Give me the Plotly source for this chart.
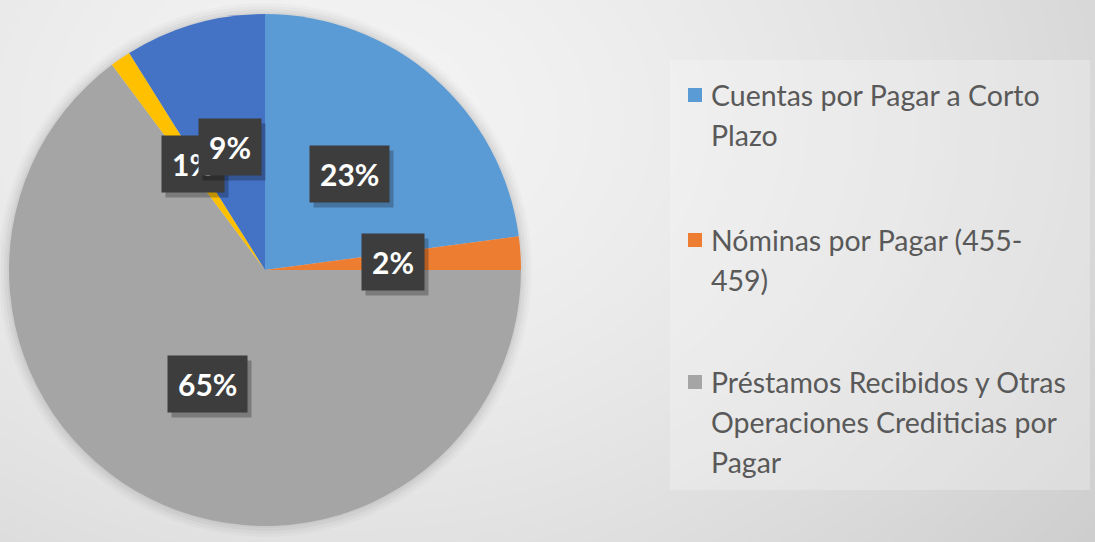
import base64, struct, zlib, math
import numpy as np
import plotly.graph_objects as go

# ---- data ----
labels = [
    "Cuentas por Pagar a Corto Plazo",
    "Nóminas por Pagar (455-459)",
    "Préstamos Recibidos y Otras Operaciones Crediticias por Pagar",
    "Otras Cuentas por Pagar",
    "Otros Pasivos",
]
values = [22.9, 2.1, 64.8, 1.3, 8.9]
colors = ["#5B9BD5", "#ED7D31", "#A5A5A5", "#FFC000", "#4472C4"]
legend_lines = [
    ["Cuentas por Pagar a Corto", "Plazo"],
    ["Nóminas por Pagar (455-", "459)"],
    ["Préstamos Recibidos y Otras", "Operaciones Crediticias por", "Pagar"],
]

W, H = 1095, 542

# ---- background gradient image (pure python PNG) ----
def gradient_png(w, h):
    yy, xx = np.mgrid[0:h, 0:w].astype(float)
    d = np.sqrt(((xx - 350) * 0.75) ** 2 + (yy - 120) ** 2)
    v = 244 - 38 * (d / 700.0) ** 1.5
    v = np.clip(v, 0, 255).astype(np.uint8)
    raw = b"".join(b"\x00" + v[r].tobytes() for r in range(h))
    def chunk(t, data):
        c = struct.pack(">I", len(data)) + t + data
        return c + struct.pack(">I", zlib.crc32(t + data) & 0xffffffff)
    png = b"\x89PNG\r\n\x1a\n"
    png += chunk(b"IHDR", struct.pack(">IIBBBBB", w, h, 8, 0, 0, 0, 0))
    png += chunk(b"IDAT", zlib.compress(raw, 9))
    png += chunk(b"IEND", b"")
    return "data:image/png;base64," + base64.b64encode(png).decode()

# pie geometry in pixels
cx, cy, R = 265, 270, 256

fig = go.Figure()
fig.add_trace(go.Pie(
    labels=labels, values=values, sort=False, direction="clockwise", rotation=0,
    marker=dict(colors=colors, line=dict(width=0)),
    textinfo="none", hoverinfo="label+percent", showlegend=False,
    domain=dict(x=[(cx - R) / W, (cx + R) / W], y=[1 - (cy + R) / H, 1 - (cy - R) / H]),
))

def px(x):
    return x / W

def py(y):
    return 1 - y / H

shapes = []
# soft shadow around the pie
for i, a in enumerate([0.035, 0.03, 0.025, 0.02]):
    r = R + 2 + 3 * i
    shapes.append(dict(type="circle", xref="paper", yref="paper", layer="below",
                       x0=px(cx - r), x1=px(cx + r), y0=py(cy + r), y1=py(cy - r),
                       fillcolor=f"rgba(0,0,0,{a})", line=dict(width=0)))
# legend box
shapes.append(dict(type="rect", xref="paper", yref="paper", layer="below",
                   x0=px(670), x1=px(1090), y0=py(490), y1=py(60),
                   fillcolor="rgba(250,250,250,0.3)", line=dict(width=0)))

annotations = []
# data labels
total = sum(values)
cum = 0.0
for v in values:
    mid = (cum + v / 2) / total * 2 * math.pi
    cum += v
    lx = cx + 0.5 * R * math.sin(mid)
    ly = cy - 0.5 * R * math.cos(mid)
    txt = f"{round(v / total * 100)}%"
    common = dict(x=px(lx), y=py(ly), xref="paper", yref="paper", showarrow=False,
                  xanchor="center", yanchor="middle", borderpad=10)
    annotations.append(dict(common, text=f"<b>{txt}</b>", xshift=4, yshift=-5,
                            font=dict(family="Lato", size=30, color="rgba(0,0,0,0)"),
                            bgcolor="rgba(0,0,0,0.25)"))
    annotations.append(dict(common, text=f"<b>{txt}</b>",
                            font=dict(family="Lato", size=30, color="white"),
                            bgcolor="#3d3d3d"))

# manual legend (first three categories)
first_lines = [97, 242, 384]
for i, lines in enumerate(legend_lines):
    y0 = first_lines[i]
    shapes.append(dict(type="rect", xref="paper", yref="paper",
                       x0=px(688), x1=px(702), y0=py(y0 + 5), y1=py(y0 - 9),
                       fillcolor=colors[i], line=dict(width=0)))
    for j, t in enumerate(lines):
        annotations.append(dict(x=px(709), y=py(y0 - 2 + 40 * j), xref="paper", yref="paper",
                                text=t, showarrow=False, xanchor="left", yanchor="middle",
                                font=dict(family="Lato", size=28.5, color="#595959")))

fig.update_layout(
    width=W, height=H, margin=dict(l=0, r=0, t=0, b=0),
    paper_bgcolor="#e4e4e4", plot_bgcolor="rgba(0,0,0,0)",
    images=[dict(source=gradient_png(W, H), xref="paper", yref="paper", x=0, y=1,
                 sizex=1, sizey=1, sizing="stretch", layer="below", xanchor="left", yanchor="top")],
    shapes=shapes, annotations=annotations, showlegend=False,
)
fig.write_html("out.html", config={"displayModeBar": False},
               post_script="document.body.style.margin='0';")
